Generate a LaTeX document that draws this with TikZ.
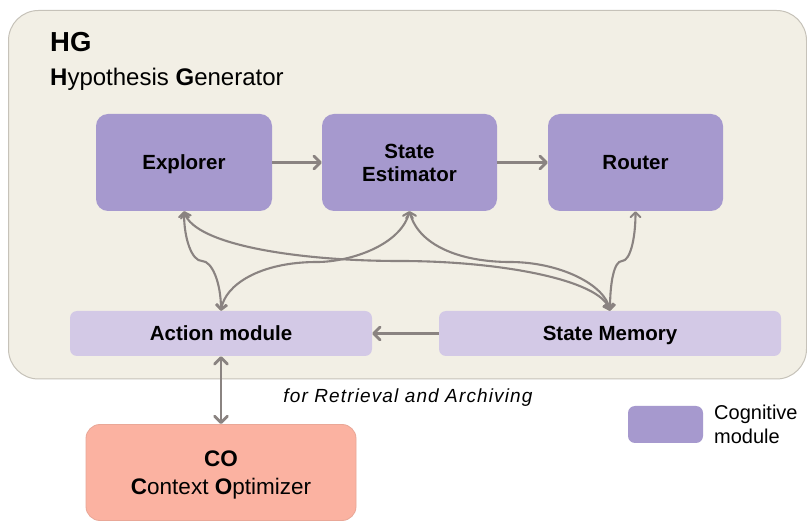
\documentclass[tikz,border=0pt]{standalone}
\usepackage{fontspec}
\setmainfont{Liberation Sans}
\usetikzlibrary{arrows.meta,calc}
\definecolor{hgfill}{HTML}{F2EFE5}
\definecolor{hgline}{HTML}{C6C2B9}
\definecolor{cogfill}{HTML}{A699CE}
\definecolor{subfill}{HTML}{D3C9E6}
\definecolor{cofill}{HTML}{FBB2A1}
\definecolor{coline}{HTML}{E9A797}
\definecolor{wire}{HTML}{8A8381}
\tikzset{
  x=1pt, y=1pt,
  cogbox/.style={rectangle, rounded corners=12pt, fill=cogfill, minimum width=176pt,
    minimum height=97pt, inner sep=0pt, align=center, text depth=0pt,
    font=\fontsize{20.5}{23}\selectfont\bfseries},
  subbox/.style={rectangle, rounded corners=7pt, fill=subfill, minimum height=45pt,
    inner sep=0pt, text depth=0pt, font=\fontsize{20.5}{23}\selectfont\bfseries},
  cobox/.style={rectangle, rounded corners=14pt, fill=cofill, draw=coline, line width=0.8pt,
    minimum width=270pt, minimum height=96pt, inner sep=0pt, align=center, text depth=0pt,
    font=\fontsize{22.5}{28}\selectfont},
  flow/.style={draw=wire, line width=2.8pt, -{Straight Barb[length=6.5pt,width=13pt,round]}},
  both/.style={draw=wire, line width=2.8pt,
    {Straight Barb[length=6.5pt,width=13pt,round]}-{Straight Barb[length=6.5pt,width=13pt,round]}},
  link/.style={draw=wire, line width=2.1pt,
    {Straight Barb[length=5pt,width=10pt,round]}-{Straight Barb[length=5pt,width=10pt,round]}},
}
\begin{document}
\begin{tikzpicture}
\useasboundingbox (0,0) rectangle (807,-521);
\fill[white] (0,0) rectangle (807,-521);

% Hypothesis Generator container
\draw[fill=hgfill, draw=hgline, line width=1pt, rounded corners=30pt]
  (8.5,-10.5) rectangle (806.5,-379);
\node[anchor=base west, inner sep=0pt, font=\fontsize{27.5}{30}\selectfont\bfseries]
  (hg) at (50,-52) {HG};
\node[anchor=base west, inner sep=0pt, font=\fontsize{24}{26}\selectfont]
  (hgname) at (50,-86) {\textbf{H}ypothesis \textbf{G}enerator};

% modules
\node[cogbox] (ex) at (184,-162.5) {Explorer};
\node[cogbox, minimum width=175pt] (se) at (409.5,-162.5) {State\\Estimator};
\node[cogbox, minimum width=175pt] (ro) at (635.5,-162.5) {Router};
\node[subbox, minimum width=302pt] (ac) at (221,-333.5) {Action module};
\node[subbox, minimum width=342pt] (sm) at (610,-333.5) {State Memory};
\node[cobox] (co) at (221,-472.5) {\textbf{CO}\\\textbf{C}ontext \textbf{O}ptimizer};

% waypoints of the curved links
\coordinate (m1) at (202,-261);
\coordinate (m2) at (400,-261);
\coordinate (m3) at (317,-262);
\coordinate (m4) at (510,-262);
\coordinate (m5) at (622,-261);

% straight flows
\draw[flow] (ex.east) -- (se.west);
\draw[flow] (se.east) -- (ro.west);
\draw[flow] (sm.west) -- (ac.east);
\draw[both] (ac.south) -- (co.north);

% curved links
\draw[link] (ex.south) .. controls +(0,-28) and +(-10,0) .. (m1)
  .. controls +(10,0) and +(0,28) .. (ac.north);
\draw[link] (ex.south) .. controls +(11,-34) and +(-100,0) .. (m2)
  .. controls +(100,0) and +(-10,31) .. (sm.north);
\draw[link] (se.south) .. controls +(-9,-34) and +(33,0) .. (m3)
  .. controls +(-57,0) and +(4,26) .. (ac.north);
\draw[link] (se.south) .. controls +(9,-34) and +(-50,0) .. (m4)
  .. controls +(50,0) and +(-5,26) .. (sm.north);
\draw[link] (ro.south) .. controls +(0,-28) and +(8,0) .. (m5)
  .. controls +(-8,0) and +(0,28) .. (sm.north);

% caption of the Action module / CO link
\node[inner sep=0pt, font=\fontsize{19}{22}\selectfont\itshape] (cap) at (408,-398)
  {\addfontfeatures{LetterSpace=6}for Retrieval and Archiving};

% legend
\node[rectangle, rounded corners=7pt, fill=cogfill, minimum width=75pt,
  minimum height=37pt, inner sep=0pt] (lg) at (665.5,-424.5) {};
\node[anchor=west, align=left, inner sep=0pt, font=\fontsize{20}{23.5}\selectfont]
  (lgtext) at (714,-424.5) {Cognitive\\module};
\end{tikzpicture}
\end{document}
